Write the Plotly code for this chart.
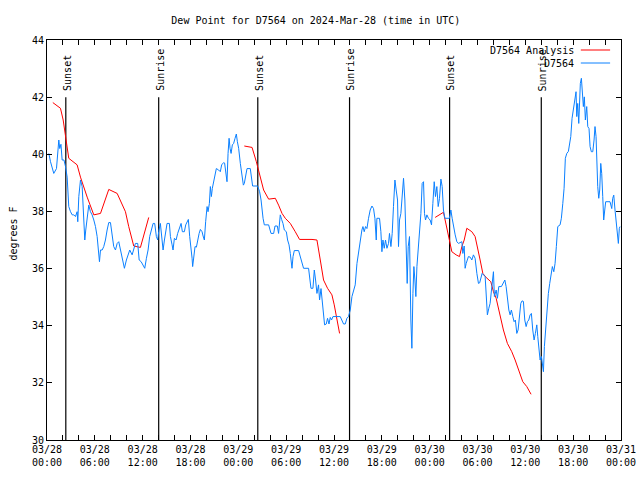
import pandas as pd
import plotly.graph_objects as go

START = pd.Timestamp("2024-03-28 00:00")

# Observations (hours since 03/28 00:00 UTC, degrees F)
obs_hours = [0.23,0.44,0.85,1.19,1.48,1.60,1.75,1.90,2.13,2.32,2.53,2.73,2.95,3.16,3.36,3.57,3.78,3.86,3.99,4.20,
 4.41,4.54,4.61,4.74,4.86,5.04,5.24,5.45,5.66,5.87,6.08,6.29,6.49,6.58,6.71,6.92,7.12,7.33,7.54,7.75,
 7.96,8.17,8.37,8.59,8.80,9.00,9.21,9.42,9.71,9.96,10.13,10.38,10.68,10.88,11.09,11.38,11.56,11.81,12.06,12.26,
 12.47,12.68,12.88,13.10,13.31,13.51,13.72,13.89,14.01,14.22,14.44,14.56,14.73,14.94,15.06,15.35,15.48,15.69,15.81,15.98,
 16.19,16.39,16.64,16.82,16.98,17.23,17.40,17.57,17.73,17.90,18.07,18.20,18.27,18.40,18.57,18.74,18.90,19.08,19.24,19.45,
 19.58,19.74,19.90,20.08,20.20,20.37,20.49,20.62,20.74,20.90,21.03,21.24,21.53,21.74,21.91,22.16,22.28,22.46,22.58,22.71,
 22.84,22.96,23.09,23.25,23.41,23.59,23.75,23.88,24.04,24.25,24.46,24.63,24.75,24.92,25.09,25.50,25.67,25.79,26.42,26.67,
 26.85,26.97,27.10,27.26,27.80,28.10,28.43,28.60,28.89,29.05,29.26,29.43,29.60,29.77,30.02,30.18,30.36,30.52,30.73,30.86,
 31.02,31.56,31.77,31.98,32.18,32.81,32.94,33.11,33.36,33.53,33.69,33.86,34.06,34.19,34.37,34.53,34.69,34.82,35.03,35.19,
 35.37,35.53,35.69,35.87,36.78,36.99,37.20,37.41,37.62,37.82,38.04,38.25,38.45,38.66,38.88,39.08,39.29,39.50,39.63,39.79,
 39.96,40.13,40.33,40.54,40.76,40.96,41.13,41.30,41.38,41.71,41.88,42.01,42.14,42.30,42.46,42.64,42.84,42.96,43.14,43.30,
 43.46,43.64,43.80,43.97,44.09,44.22,44.39,44.55,44.72,44.89,45.06,45.18,45.31,45.47,45.64,45.77,45.90,46.02,46.15,46.27,
 46.40,46.56,46.72,46.90,47.06,47.23,47.35,47.48,47.65,47.85,48.06,48.23,48.40,48.57,48.73,48.90,49.07,49.23,49.41,49.57,
 49.73,49.91,50.48,50.66,50.82,50.99,51.20,51.41,51.61,52.04,52.16,52.33,52.45,52.58,52.74,52.86,53.08,53.29,53.49,53.70,
 53.92,54.12,54.27,54.42,54.58,54.96,55.08,55.24,55.42,55.58,55.80,56.00,56.12,56.34,56.50,56.67,57.00,57.25,57.43,57.59,
 57.75,57.93,58.09,58.25,58.43,58.59,58.75,58.93,59.09,59.26,59.43,59.59,59.76,59.93,60.10,60.26,60.43,60.60,60.76,60.93,
 61.10,61.26,61.44,61.56,61.69,61.85,62.02,62.14,62.27,62.39,62.57,62.73,62.89,63.06,63.23,63.39,63.57,63.73,63.89,64.07,
 64.36,64.52,64.70,64.86,65.02,65.20,65.40,65.61,65.70,65.86,66.02,66.20,66.36,66.45,66.57,66.70,66.78,66.90,67.03,67.15,
 67.28,67.40,67.53,67.70,67.83,67.99,68.12,68.28,68.46,68.62,68.74,68.87,68.96,69.08,69.21,69.33,69.46,69.58,69.71,69.83,
 69.96,70.08,70.62,70.84,70.96,71.09,71.25,71.37,71.54,71.67,71.79,71.88]
obs_values = [40.03,39.74,39.33,39.50,40.50,40.20,40.35,39.80,39.80,39.57,39.20,38.17,37.99,37.88,37.88,37.82,37.99,37.64,38.52,39.10,
 38.87,38.20,37.40,37.00,37.35,37.76,38.22,37.99,37.88,37.70,37.47,37.12,36.48,36.24,36.65,36.65,36.77,37.00,37.35,37.61,
 37.61,37.12,36.77,36.65,36.88,36.94,36.65,36.36,36.01,36.30,36.42,36.65,36.48,36.65,36.88,36.88,36.30,36.24,36.12,36.01,
 36.36,36.65,37.12,37.41,37.58,37.58,37.12,37.00,37.30,37.58,36.88,36.65,37.00,37.35,37.58,37.58,37.12,36.83,36.65,37.06,
 37.00,37.23,37.47,37.58,37.29,37.29,37.53,37.61,37.72,37.12,36.77,36.36,36.07,36.48,36.77,36.75,37.00,37.23,37.37,37.29,
 37.14,37.00,37.64,38.17,37.99,38.28,38.87,38.52,38.81,39.04,39.33,39.50,39.45,39.39,39.63,39.71,39.69,39.22,39.04,40.03,
 40.56,40.21,40.03,40.33,40.38,40.56,40.71,40.44,40.21,39.68,39.28,38.92,38.98,39.33,39.50,39.50,39.16,38.89,38.89,38.69,
 38.40,37.99,37.76,37.53,37.53,37.23,37.23,37.49,37.49,37.23,37.88,37.72,37.58,37.35,37.29,37.00,36.83,36.53,36.01,36.42,
 36.63,36.63,36.42,36.30,36.01,36.01,35.78,35.31,35.31,35.95,35.60,35.13,35.43,34.90,35.30,34.78,34.32,34.03,34.06,34.26,
 34.06,34.29,34.20,34.32,34.32,34.20,34.06,34.06,34.26,34.32,34.55,35.02,35.25,35.43,36.18,36.53,37.06,37.35,37.47,37.29,
 37.47,37.40,37.76,38.05,38.19,38.10,37.76,37.00,37.76,37.76,37.29,36.59,37.00,36.71,37.00,36.71,36.88,37.23,36.77,37.23,
 38.17,39.10,38.75,38.40,36.77,37.70,37.93,38.52,39.16,38.40,36.18,35.48,36.77,37.12,34.20,33.21,35.13,36.07,35.60,35.02,
 36.07,36.65,37.47,37.93,38.98,39.04,37.93,37.70,37.88,37.76,37.70,37.53,38.28,39.04,38.52,38.87,38.17,38.45,39.13,38.87,
 38.05,37.76,37.76,38.05,37.76,37.47,37.18,36.94,36.88,36.94,36.53,36.79,36.01,36.18,36.30,36.42,36.40,36.30,36.48,36.36,
 35.83,35.48,35.50,35.72,35.83,35.72,35.02,34.38,34.61,34.78,35.37,35.89,35.02,35.25,34.96,35.37,35.37,35.48,35.60,35.37,
 34.90,34.55,34.38,34.55,34.32,34.14,34.20,33.73,33.85,34.32,34.78,34.87,34.85,34.20,33.97,34.14,34.20,34.38,34.43,33.85,
 33.50,33.73,34.03,33.62,33.09,32.80,32.92,32.68,32.39,33.27,33.91,34.78,35.13,35.48,35.89,36.07,35.89,36.18,36.77,37.47,
 37.53,37.76,38.28,38.81,39.86,40.03,40.10,40.38,40.62,41.26,41.55,41.90,42.19,41.32,41.78,41.08,42.01,42.48,42.66,42.31,
 41.67,42.01,41.20,41.67,40.97,40.90,40.27,40.09,40.09,40.50,40.97,40.62,39.74,38.87,38.46,38.75,39.68,39.33,38.52,37.70,
 38.05,38.34,38.34,38.10,38.46,38.57,38.05,37.70,37.41,36.88,37.41,37.47]

# Analysis (three separate runs)
ana1_hours = [0.73,1.69,2.03,2.36,2.73,3.78,4.20,5.04,5.87,6.71,7.75,8.80,9.84,10.25,10.88,11.72,12.76]
ana1_values = [41.81,41.61,41.20,40.50,39.86,39.63,39.20,38.50,37.88,37.93,38.77,38.63,37.99,37.47,36.79,36.74,37.79]
ana2_hours = [24.75,25.72,26.26,26.54,27.17,27.80,28.64,29.05,29.48,29.89,30.52,31.14,31.68,33.24,33.86,34.28,34.69,35.19,35.74,36.03,36.28,36.70]
ana2_values = [40.29,40.24,39.74,39.45,38.75,38.43,38.46,38.22,37.93,37.76,37.58,37.29,37.02,37.02,37.00,36.30,35.60,35.31,35.08,34.73,34.32,33.73]
ana3_hours = [48.69,49.32,49.73,49.94,50.16,50.48,50.78,51.32,51.74,52.04,52.33,52.66,53.29,53.70,53.99,54.33,54.67,55.08,55.67,56.00,
 56.34,56.84,57.25,57.75,58.30,58.72,59.13,59.68,60.18,60.72]
ana3_values = [37.79,37.91,37.97,37.70,37.41,36.88,36.59,36.48,36.42,36.77,37.00,37.41,37.29,37.12,36.77,36.30,35.83,35.69,35.54,35.19,
 34.96,34.32,33.85,33.38,33.09,32.80,32.45,32.04,31.87,31.60]

# Sun events
sun_hours = [2.36, 14.01, 26.44, 37.95, 50.50, 62.00]
sun_labels = ["Sunset", "Sunrise", "Sunset", "Sunrise", "Sunset", "Sunrise"]
sun_line_bottom = 30
sun_line_top = 42

tick_hours = list(range(0, 73, 2))
tick_label_text = {0: "03/28<br>00:00", 6: "03/28<br>06:00", 12: "03/28<br>12:00", 18: "03/28<br>18:00",
                   24: "03/29<br>00:00", 30: "03/29<br>06:00", 36: "03/29<br>12:00", 42: "03/29<br>18:00",
                   48: "03/30<br>00:00", 54: "03/30<br>06:00", 60: "03/30<br>12:00", 66: "03/30<br>18:00",
                   72: "03/31<br>00:00"}


def to_time(hours):
    return [START + pd.to_timedelta(h, unit="h") for h in hours]


FONT = "DejaVu Sans Mono"
BLUE = "#0a80ff"
RED = "#ff0000"

fig = go.Figure()

# sunrise / sunset lines
sx, sy = [], []
for h in sun_hours:
    t = START + pd.to_timedelta(h, unit="h")
    sx += [t, t, None]
    sy += [sun_line_bottom, sun_line_top, None]
fig.add_trace(go.Scatter(x=sx, y=sy, mode="lines", line=dict(color="black", width=1.2),
                         hoverinfo="skip", showlegend=False))

# analysis
ax, ay = [], []
for hs, vs in [(ana1_hours, ana1_values), (ana2_hours, ana2_values), (ana3_hours, ana3_values)]:
    ax += to_time(hs) + [None]
    ay += vs + [None]
fig.add_trace(go.Scatter(x=ax, y=ay, mode="lines", name="D7564 Analysis",
                         line=dict(color=RED, width=1), connectgaps=False, showlegend=False))

# observations
fig.add_trace(go.Scatter(x=to_time(obs_hours), y=obs_values, mode="lines", name="D7564",
                         line=dict(color=BLUE, width=1, shape="linear"), showlegend=False))

annotations = []
for h, lab in zip(sun_hours, sun_labels):
    annotations.append(dict(x=START + pd.to_timedelta(h, unit="h"), y=sun_line_top, xref="x", yref="y",
                            text=lab, textangle=-90, showarrow=False, xanchor="center", yanchor="bottom",
                            xshift=1, yshift=4, font=dict(family=FONT, size=10, color="black")))

# legend (gnuplot style: text then sample)
leg_items = [("D7564 Analysis", RED, 0.975), ("D7564", BLUE, 0.9425)]
shapes = []
for text, col, yy in leg_items:
    annotations.append(dict(x=0.921, y=yy, xref="paper", yref="paper", text=text, showarrow=False,
                            xanchor="right", yanchor="middle", font=dict(family=FONT, size=10, color="black")))
    shapes.append(dict(type="line", xref="paper", yref="paper", x0=0.930, x1=0.981, y0=yy, y1=yy,
                       line=dict(color=col, width=1)))

# y-axis title
annotations.append(dict(x=-0.06, y=0.515, xref="paper", yref="paper", text="degrees F", textangle=-90,
                        showarrow=False, xanchor="center", yanchor="middle",
                        font=dict(family=FONT, size=10, color="black")))

fig.update_layout(
    width=640, height=480,
    margin=dict(l=47, r=19, t=40, b=40, autoexpand=False),
    paper_bgcolor="white", plot_bgcolor="white",
    title=dict(text="Dew Point for D7564 on 2024-Mar-28 (time in UTC)", x=0.4935, xanchor="center",
               y=1 - 20 / 480, yanchor="middle", font=dict(family=FONT, size=10, color="black")),
    annotations=annotations, shapes=shapes,
    showlegend=False,
)

fig.update_xaxes(type="date", range=[START, START + pd.to_timedelta(72, unit="h")],
                 tickmode="array", tickvals=to_time(tick_hours),
                 ticktext=[tick_label_text.get(h, "") for h in tick_hours],
                 ticks="inside", ticklen=5, tickcolor="black", tickwidth=1,
                 showline=True, linecolor="black", linewidth=1, mirror="allticks",
                 showgrid=False, zeroline=False, automargin=False,
                 tickfont=dict(family=FONT, size=10, color="black"))
fig.update_yaxes(range=[30, 44], tickmode="linear", tick0=30, dtick=2,
                 ticks="inside", ticklen=5, tickcolor="black", tickwidth=1,
                 showline=True, linecolor="black", linewidth=1, mirror="allticks",
                 showgrid=False, zeroline=False, automargin=False,
                 tickfont=dict(family=FONT, size=10, color="black"))

fig.write_html("out.html", config={"displayModeBar": False},
               post_script="document.body.style.margin='0';document.body.style.overflow='hidden';")
